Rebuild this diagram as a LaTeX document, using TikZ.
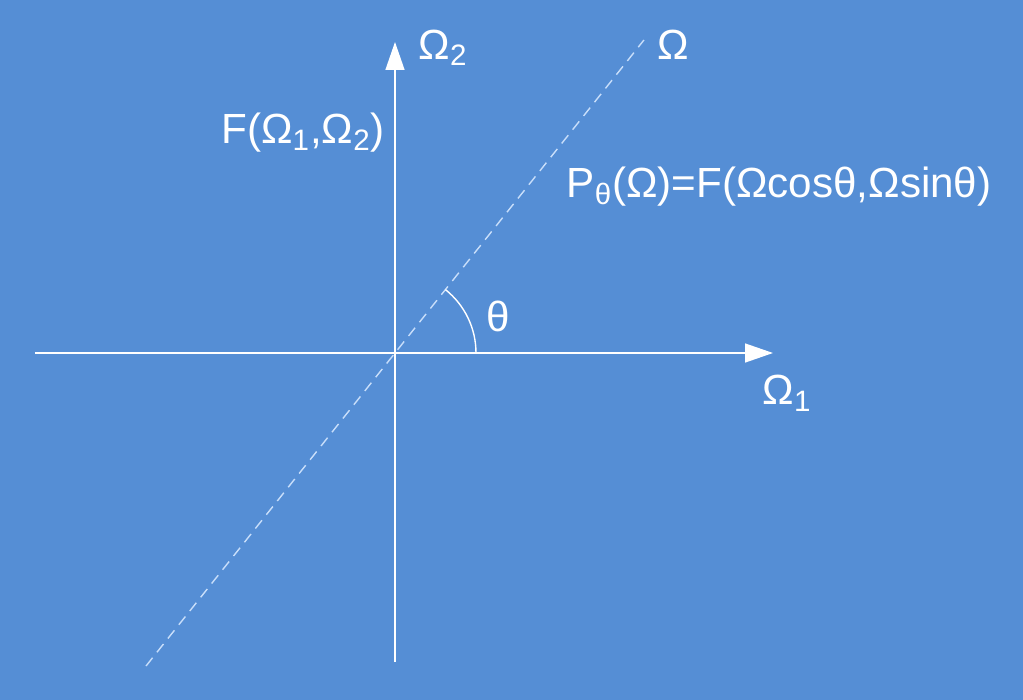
\documentclass[tikz,border=0pt]{standalone}
\usepackage{fontspec}
\setmainfont{Liberation Sans}
\usepackage{tikz}
\usetikzlibrary{arrows.meta,positioning}

\definecolor{bgblue}{RGB}{85,142,213}
\definecolor{dashblue}{RGB}{200,222,250}

\begin{document}
\begin{tikzpicture}[
    axis/.style={draw=white, line width=0.8pt, -{Triangle[length=0.56cm,width=0.38cm]}},
    ray/.style={draw=dashblue, line width=0.8pt, dash pattern=on 6pt off 4pt},
    lbl/.style={text=white, font=\fontsize{24}{28}\selectfont, inner sep=0pt}
    ]
    \fill[bgblue] (-7.9,-6.94) rectangle (12.56,7.06);
    \useasboundingbox (-7.9,-6.94) rectangle (12.56,7.06);

    \coordinate (O) at (0,0);
    \coordinate (xl) at (-7.2,0);
    \coordinate (xr) at (7.56,0);
    \coordinate (yb) at (0,-6.18);
    \coordinate (yt) at (0,6.22);
    \coordinate (rb) at (231.5:8);
    \coordinate (rt) at (51.5:8);

    \path[ray] (rb) -- (rt);
    \path[axis] (xl) -- (xr);
    \path[axis] (yb) -- (yt);
    \draw[white, line width=0.8pt] (1.62,0) arc[start angle=0, end angle=51.5, radius=1.62];

    \node[lbl] (omtwo) at (0.96,6.1) {Ω\textsubscript{2}};
    \node[lbl] (om) at (5.56,6.16) {Ω};
    \node[lbl] (F) at (-1.84,4.4) {F(Ω\textsubscript{1},Ω\textsubscript{2})};
    \node[lbl] (P) at (7.68,3.32) {P\textsubscript{θ}(Ω)=F(Ωcosθ,Ωsinθ)};
    \node[lbl] (th) at (2.06,0.74) {θ};
    \node[lbl] (omone) at (7.84,-0.8) {Ω\textsubscript{1}};
\end{tikzpicture}
\end{document}
